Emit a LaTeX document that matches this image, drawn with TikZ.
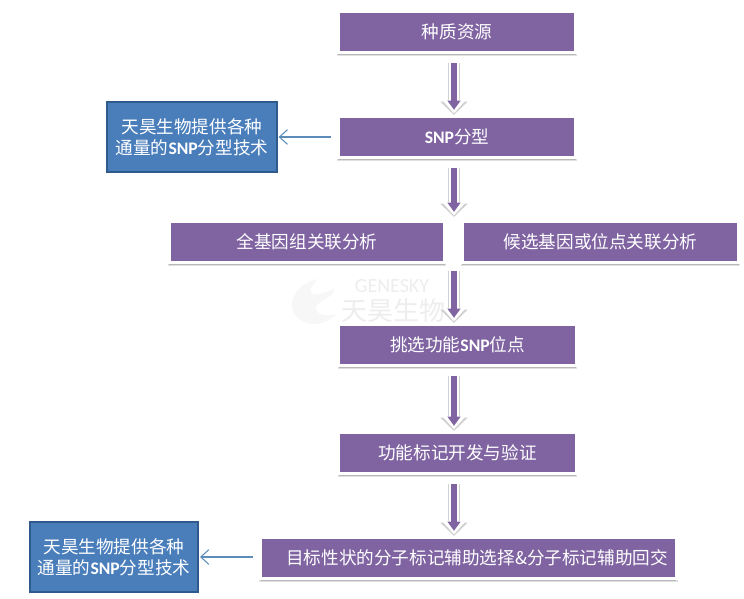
\documentclass[tikz,border=0pt]{standalone}
\usepackage{fontspec}
\setmainfont{Noto Sans CJK SC}
\newfontfamily\latinfont{Carlito}
\usetikzlibrary{arrows.meta,shadows}
\definecolor{boxpurple}{HTML}{8064A2}
\definecolor{boxblue}{HTML}{4A7EBB}
\definecolor{boxline}{HTML}{2F5A8C}
\definecolor{thinline}{HTML}{5B8DB8}
\newcommand{\snp}{{\latinfont\bfseries SNP}}
\tikzset{
  stepbox/.style={fill=boxpurple,draw=white,line width=2.2pt,text=white,font=\fontsize{13.2}{15}\selectfont,
    minimum height=30.9pt,inner sep=0pt,
    general shadow={shadow xshift=0pt,shadow yshift=-2.2pt,shadow scale=1.01,fill=black!12},
    general shadow={shadow xshift=0pt,shadow yshift=-1.9pt,fill=black!28}},
  techbox/.style={fill=boxblue,draw=boxline,line width=1.4pt,text=white,align=center,inner sep=0pt,
    font=\fontsize{13.2}{15.8}\selectfont},
  flowarrow/.style={line width=5.2pt,draw=boxpurple,shorten >=3.8pt,
    -{Triangle[length=7pt,width=9.5pt]},
    preaction={draw=black!18,line width=9pt,shorten >=0pt,-{Triangle[length=10pt,width=20pt]}},
    preaction={draw=white,line width=7.5pt,shorten >=1.2pt,-{Triangle[length=10pt,width=17pt]}}},
  linkarrow/.style={draw=thinline,line width=.8pt,-{Straight Barb[length=6pt,width=11pt]},
    shorten <=4.5pt,shorten >=.8pt}
}
\begin{document}
\begin{tikzpicture}[x=.75pt,y=-.75pt]
    \useasboundingbox (0,0) rectangle (744,599);
    % faint watermark
    \fill[black!3] (318,279) .. controls (292,284) and (282,312) .. (304,322) .. controls (316,327) and (330,322) .. (336,314) .. controls (322,318) and (312,312) .. (318,304) .. controls (324,298) and (336,296) .. (334,288) .. controls (318,298) and (300,298) .. (318,279);
    \node[text=black!7,font=\fontsize{15}{15}\selectfont\latinfont,inner sep=0pt] (mark1) at (392,286) {GENESKY};
    \node[text=black!7,font=\fontsize{19.5}{19.5}\selectfont,inner sep=0pt] (mark2) at (393,311) {天昊生物};
    \coordinate (axis) at (454,0);
    \node[stepbox,minimum width=177.9pt] (A) at (457,32) {种质资源};
    \node[stepbox,minimum width=177.9pt] (B) at (457,137) {\snp 分型};
    \node[stepbox,minimum width=206.4pt] (C) at (307,242) {全基因组关联分析};
    \node[stepbox,minimum width=207.4pt] (D) at (600.5,242) {候选基因或位点关联分析};
    \node[stepbox,minimum width=177.9pt] (E) at (457.5,345) {挑选功能\snp 位点};
    \node[stepbox,minimum width=177.9pt] (F) at (457.5,453) {功能标记开发与验证};
    \node[stepbox,minimum width=311.4pt] (G) at (468.5,558) {\hspace*{13pt}目标性状的分子标记辅助选择\&分子标记辅助回交};
    \node[techbox,minimum width=127pt,minimum height=53pt] (H) at (192,137) {天昊生物提供各种\\通量的\snp 分型技术};
    \node[techbox,minimum width=126pt,minimum height=53pt] (I) at (114,557) {天昊生物提供各种\\通量的\snp 分型技术};
    \coordinate (gapT) at (454,217);
    \coordinate (gapB) at (454,271);
    \draw[flowarrow,shorten <=7pt] (A.south -| axis) -- (B.north -| axis);
    \draw[flowarrow,shorten <=7pt] (B.south -| axis) -- (gapT);
    \draw[flowarrow] (gapB) -- (E.north -| axis);
    \draw[flowarrow,shorten <=7pt] (E.south -| axis) -- (F.north -| axis);
    \draw[flowarrow,shorten <=7pt] (F.south -| axis) -- (G.north -| axis);
    \draw[linkarrow] (B) -- (H);
    \draw[linkarrow] (G.west |- I) -- (I);
\end{tikzpicture}
\end{document}
